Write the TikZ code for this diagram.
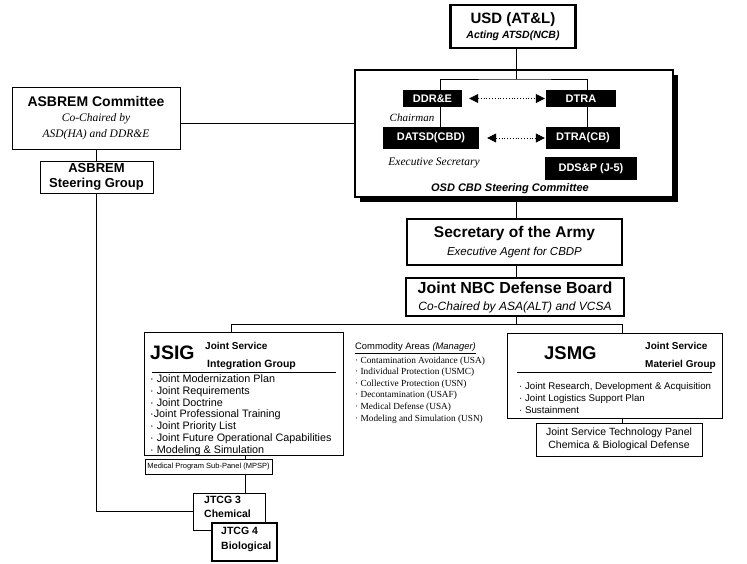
\documentclass[tikz,border=0pt]{standalone}
\usepackage{fontspec}
\setmainfont{Liberation Sans}
\newfontfamily\tms{Liberation Serif}
\usetikzlibrary{arrows.meta,shadows}
\newcommand\fsz[2]{\fontsize{#1}{#2}\selectfont}

\tikzset{
  box/.style={draw, line width=1pt, inner sep=0pt, align=center},
  blk/.style={fill=black, text=white, inner sep=0pt, font=\bfseries\fsz{11}{13}},
  link/.style={line width=1pt},
  dotarr/.style={dotted, line width=0.8pt, {Triangle[length=9pt,width=9pt]}-{Triangle[length=9pt,width=9pt]}},
  lbl/.style={inner sep=0pt, anchor=west},
}

\begin{document}
\begin{tikzpicture}[x=1pt,y=-1pt]
  \useasboundingbox (0,0) rectangle (747,563);

  % top: USD and the OSD steering committee
  \node[box, line width=2.8pt, minimum width=125pt, minimum height=43pt, font=\bfseries\fsz{15}{16}] (usd) at (513,26.5)
    {USD (AT\&L)\\[-1pt]\fsz{10.5}{14}\bfseries\itshape Acting ATSD(NCB)};
  \node[box, line width=1.5pt, fill=white, minimum width=318pt, minimum height=127pt,
    drop shadow={shadow xshift=4.5pt, shadow yshift=-4.5pt, fill=black, opacity=1}] (osd) at (514,133.5) {};
  \coordinate (split) at (516,79);

  \node[blk, minimum width=59pt, minimum height=17pt] (ddre) at (432.5,98.5) {DDR\&E};
  \node[blk, minimum width=70pt, minimum height=17pt] (dtra) at (581,98.5) {DTRA};
  \node[blk, minimum width=96pt, minimum height=22pt] (datsd) at (431,138) {DATSD(CBD)};
  \node[blk, minimum width=74pt, minimum height=22pt] (dtracb) at (583,138) {DTRA(CB)};
  \node[blk, minimum width=92pt, minimum height=23pt] (ddsp) at (591,168.5) {DDS\&P (J-5)};
  \node[inner sep=0pt, font=\tms\itshape\fsz{11}{13}] (chair) at (412,117.5) {Chairman};
  \node[inner sep=0pt, font=\tms\itshape\fsz{11.5}{13}] (execsec) at (434,163) {Executive Secretary};
  \node[inner sep=0pt, font=\bfseries\itshape\fsz{11}{13}] (osdlbl) at (510,189) {OSD CBD Steering Committee};

  \draw[link] (usd.south -| split) -- (split);
  \draw[link] ([xshift=7.5pt]ddre.north) |- (split) -| ([xshift=6pt]dtra.north);
  \draw[link] ([xshift=7.5pt]ddre.south) -- ([xshift=7.5pt]ddre.south |- datsd.north);
  \draw[link] ([xshift=6pt]dtra.south) -- ([xshift=6pt]dtra.south |- dtracb.north);
  \draw[dotarr] ([xshift=7pt]ddre.east) -- ([xshift=-1pt]dtra.west);
  \draw[dotarr] ([xshift=8pt]datsd.east) -- ([xshift=-1pt]dtracb.west);

  % ASBREM side
  \node[box, minimum width=168pt, minimum height=62pt, font=\bfseries\fsz{14}{16}] (asbrem) at (96,118)
    {ASBREM Committee\\[-1pt]\tms\mdseries\itshape\fsz{11.5}{16}Co-Chaired by\\\tms\mdseries\itshape\fsz{11.5}{16}ASD(HA) and DDR\&E};
  \node[box, minimum width=113pt, minimum height=32pt, font=\bfseries\fsz{13}{15}] (steer) at (96.5,177)
    {ASBREM\\Steering Group};
  \draw[link] (asbrem.south) -- (asbrem.south |- steer.north);
  \draw[link] ([yshift=-5pt]asbrem.east) -- ([yshift=-5pt]asbrem.east -| osd.west);

  % Army chain
  \node[box, line width=1.5pt, minimum width=215pt, minimum height=46pt, font=\bfseries\fsz{15.5}{18}] (soa) at (514.5,242)
    {Secretary of the Army\\\mdseries\itshape\fsz{11.5}{18}Executive Agent for CBDP};
  \node[box, line width=1.8pt, minimum width=218pt, minimum height=38pt, font=\bfseries\fsz{16}{17}] (jnbc) at (515,297)
    {Joint NBC Defense Board\\\mdseries\itshape\fsz{12}{17}Co-Chaired by ASA(ALT) and VCSA};
  \draw[link] ([xshift=2pt]osd.south) -- ([xshift=2pt]osd.south |- soa.north);
  \draw[link] ([xshift=1.5pt]soa.south) -- ([xshift=1.5pt]soa.south |- jnbc.north);
  \coordinate (bus) at (516,324);
  \draw[link] ([xshift=1pt]jnbc.south) -- (bus);

  % JSIG
  \node[box, minimum width=199pt, minimum height=123pt] (jsig) at (243.5,394) {};
  \node[lbl, font=\bfseries\fsz{19.5}{21}] (jsigname) at (150,353) {JSIG};
  \node[lbl, font=\bfseries\fsz{10}{11}] (jsigt1) at (205,346) {Joint Service};
  \node[lbl, font=\bfseries\fsz{10.5}{11}] (jsigt2) at (207,364.5) {Integration Group};
  \draw[line width=0.9pt] (152,372) -- (336,372);
  \node[inner sep=0pt, anchor=north west, align=left, font=\fsz{10.8}{11.8}] (jsiglist) at (150,374.5)
    {· Joint Modernization Plan\\· Joint Requirements\\· Joint Doctrine\\·Joint Professional Training\\%
     · Joint Priority List\\· Joint Future Operational Capabilities\\· Modeling \& Simulation};
  \draw[link] ([xshift=-12.5pt]jsig.north) |- (bus);

  % commodity areas
  \node[lbl, font=\fsz{9.4}{10}] (comhead) at (355,348) {\underline{Commodity Areas \textit{(Manager)}}};
  \node[inner sep=0pt, anchor=north west, align=left, font=\tms\fsz{9.3}{11.6}] (comlist) at (355,356.5)
    {· Contamination Avoidance (USA)\\· Individual Protection (USMC)\\· Collective Protection (USN)\\%
     · Decontamination (USAF)\\· Medical Defense (USA)\\· Modeling and Simulation (USN)};

  % JSMG
  \node[box, minimum width=215pt, minimum height=85pt] (jsmg) at (614.5,375.5) {};
  \node[lbl, font=\bfseries\fsz{18.5}{20}] (jsmgname) at (544,353) {JSMG};
  \node[lbl, font=\bfseries\fsz{10}{11}] (jsmgt1) at (645,346) {Joint Service};
  \node[lbl, font=\bfseries\fsz{10}{11}] (jsmgt2) at (645,364.5) {Materiel Group};
  \draw[line width=0.9pt] (517,372) -- (712,372);
  \node[inner sep=0pt, anchor=north west, align=left, font=\fsz{9.7}{12}] (jsmglist) at (519,382)
    {· Joint Research, Development \& Acquisition\\· Joint Logistics Support Plan\\· Sustainment};
  \draw[link] (bus) -| ([xshift=7.5pt]jsmg.north);

  \node[box, minimum width=166pt, minimum height=33pt, font=\fsz{10.5}{12.5}] (jstp) at (619,439.5)
    {Joint Service Technology Panel\\Chemica \& Biological Defense};
  \draw[link] ([xshift=7.5pt]jsmg.south) -- ([xshift=7.5pt]jsmg.south |- jstp.north);

  % medical and JTCG
  \node[box, minimum width=127pt, minimum height=15pt, font=\fsz{7.5}{9}] (mpsp) at (208.5,467)
    {Medical Program Sub-Panel (MPSP)};
  \draw[link] ([xshift=1.5pt]jsig.south) -- ([xshift=1.5pt]jsig.south |- mpsp.north);
  \node[box, minimum width=72pt, minimum height=37pt] (jtcg3) at (229.5,511.5) {};
  \node[inner sep=0pt, anchor=north west, align=left, font=\bfseries\fsz{10.5}{14}] (jtcg3txt) at (204,496)
    {JTCG 3\\Chemical};
  \draw[link] ([xshift=15.5pt]jtcg3.north |- mpsp.south) -- ([xshift=15.5pt]jtcg3.north);
  \node[box, line width=2pt, fill=white, minimum width=65pt, minimum height=38pt] (jtcg4) at (244.5,541.5) {};
  \node[inner sep=0pt, anchor=north west, align=left, font=\bfseries\fsz{10.5}{14.5}] (jtcg4txt) at (221,527)
    {JTCG 4\\Biological};
  \draw[link] (steer.south) |- (jtcg3.west);
\end{tikzpicture}
\end{document}
